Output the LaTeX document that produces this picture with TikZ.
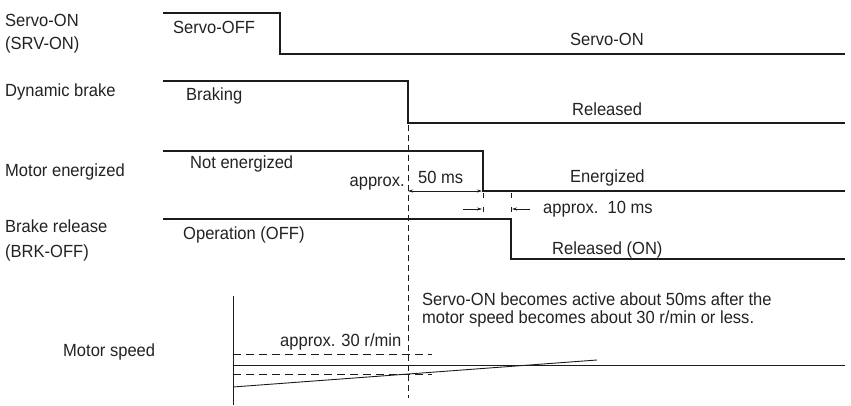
\documentclass[tikz,border=0pt]{standalone}
\usepackage{fontspec}
\setmainfont{Liberation Sans}[FakeStretch=0.94]
\usetikzlibrary{arrows.meta, positioning, calc}

\definecolor{sigline}{HTML}{1c1c1c}
\definecolor{labeltext}{HTML}{222222}

\begin{document}
\begin{tikzpicture}[
    x=1pt, y=-1pt,
    sig/.style={line width=2.6pt, color=sigline, line join=miter},
    guide/.style={line width=0.9pt, color=sigline},
    dashguide/.style={line width=0.9pt, color=sigline, dash pattern=on 8pt off 5pt},
    timeline/.style={line width=0.8pt, color=sigline, dash pattern=on 6pt off 4pt},
    dim/.style={line width=0.7pt, color=sigline},
    tip/.style={-{Stealth[length=5pt, width=3pt]}},
    lbl/.style={anchor=base west, inner sep=0pt, text=labeltext,
        font=\fontsize{17.6}{20}\selectfont},
]
\useasboundingbox (0,0) rectangle (851,406);

% ── Signal rows (x start, x end, high / low levels) ─────────────────────────
\def\xs{163}
\def\xe{845}

\draw[sig] (\xs,13)  -- (280,13)  -- (280,54)  -- (\xe,54);
\draw[sig] (\xs,81)  -- (408,81)  -- (408,123) -- (\xe,123);
\draw[sig] (\xs,151) -- (483,151) -- (483,191) -- (\xe,191);
\draw[sig] (\xs,219) -- (511,219) -- (511,259) -- (\xe,259);

% ── Row names ───────────────────────────────────────────────────────────────
\node[lbl] (srv)  at (5,27)  {Servo-ON};
\node[lbl] (srv2) at (5,50)  {(SRV-ON)};
\node[lbl] (db)   at (5,97)  {Dynamic brake};
\node[lbl] (me)   at (5,177) {Motor energized};
\node[lbl] (br)   at (5,233) {Brake release};
\node[lbl] (br2)  at (5,257) {(BRK-OFF)};
\node[lbl] (ms)   at (63,356) {Motor speed};

% ── State texts ─────────────────────────────────────────────────────────────
\node[lbl] (soff) at (173,34)  {Servo-OFF};
\node[lbl] (son)  at (570,46)  {Servo-ON};
\node[lbl] (brk)  at (186,101) {Braking};
\node[lbl] (rel)  at (572,116) {Released};
\node[lbl] (nen)  at (190,169) {Not energized};
\node[lbl] (en)   at (570,183) {Energized};
\node[lbl] (op)   at (183,240) {Operation (OFF)};
\node[lbl] (relon) at (552,254) {Released (ON)};

% ── Timing reference and delays ─────────────────────────────────────────────
\coordinate (t0) at (408,125);
\coordinate (tb) at (408,398);
\draw[timeline] (t0) -- (tb);

\coordinate (a0) at (408,191);
\coordinate (a1) at (482,191);
\draw[dim, {Stealth[length=5pt, width=3pt]}-{Stealth[length=5pt, width=3pt]}] (a0) -- (a1);
\node[lbl, anchor=base east] (ax1) at (405,187) {approx.};
\node[lbl] (d50) at (418,184) {50 ms};

\draw[dim, dash pattern=on 5pt off 9pt] (483,193) -- (483,213);
\draw[dim, dash pattern=on 5pt off 9pt] (511,193) -- (511,213);
\coordinate (b0) at (463,209);
\coordinate (b1) at (482,209);
\coordinate (c0) at (530,209);
\coordinate (c1) at (512,209);
\draw[dim, tip] (b0) -- (b1);
\draw[dim, tip] (c0) -- (c1);
\node[lbl] (d10) at (543,214) {approx.\ \ 10 ms};

% ── Motor speed ─────────────────────────────────────────────────────────────
\draw[guide] (233,296) -- (233,405);
\draw[dashguide] (233,354) -- (432,354);
\draw[guide] (233,365) -- (\xe,365);
\draw[dashguide] (233,374) -- (432,374);
\draw[guide] (233,387) -- (597,360);
\node[lbl] (r30) at (280,346) {approx. 30 r/min};

\node[lbl] (note) at (422,305) {Servo-ON becomes active about 50ms after the};
\node[lbl] (note2) at (422,323) {motor speed becomes about 30 r/min or less.};

\end{tikzpicture}
\end{document}
